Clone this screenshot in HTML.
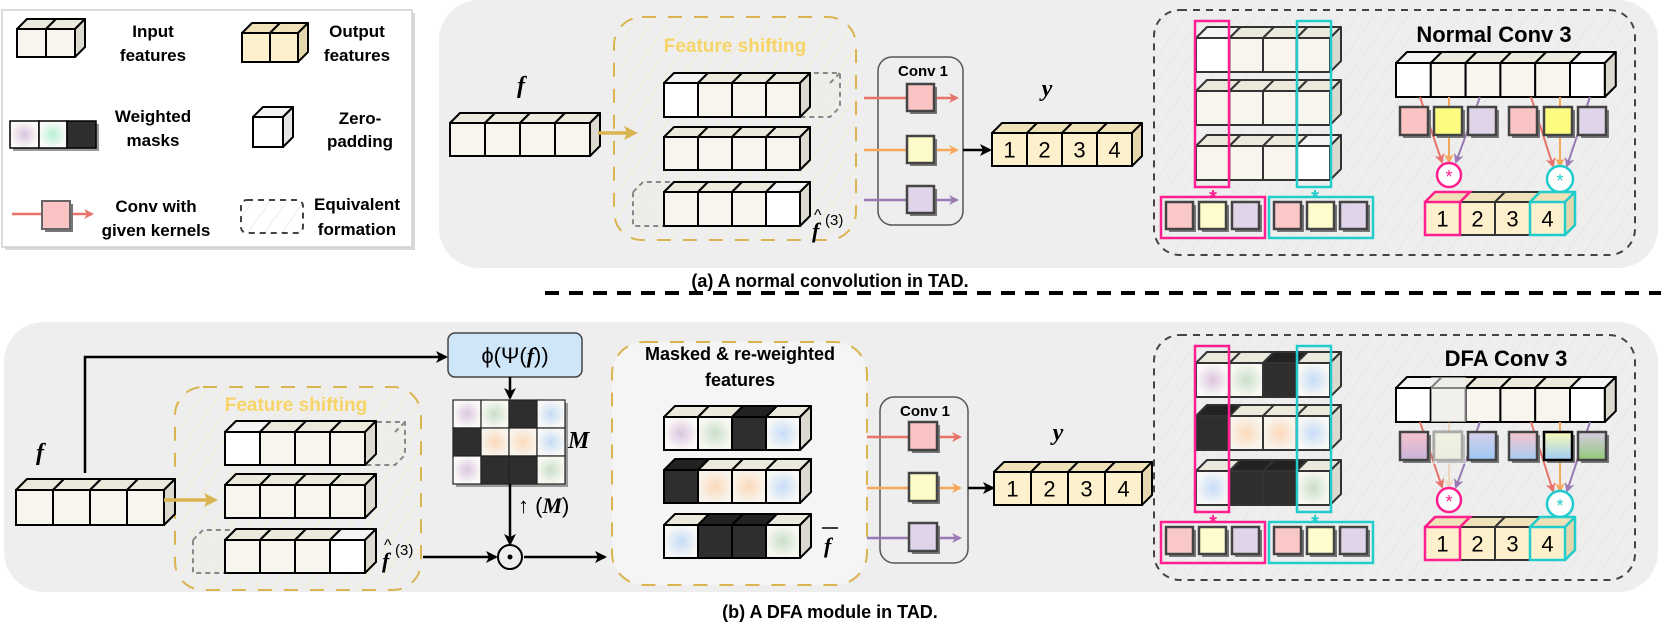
<!DOCTYPE html>
<html><head><meta charset="utf-8">
<style>
html,body{margin:0;padding:0;background:#fff;}
svg{display:block;}
text{font-family:"Liberation Sans",sans-serif;}
.b{font-weight:bold;}
.m{font-family:"Liberation Serif",serif;font-style:italic;font-weight:bold;}
</style></head>
<body>
<svg id="s" width="1661" height="631" viewBox="0 0 1661 631" xmlns="http://www.w3.org/2000/svg">
<defs>
<pattern id="hatch" width="14" height="14" patternUnits="userSpaceOnUse" patternTransform="rotate(35)">
<line x1="0" y1="0" x2="0" y2="14" stroke="#e4e4e4" stroke-width="1.5"/></pattern>
<pattern id="hatchy" width="14" height="14" patternUnits="userSpaceOnUse" patternTransform="rotate(35)">
<line x1="0" y1="0" x2="0" y2="14" stroke="#f6ecc6" stroke-width="1.5"/></pattern>
<radialGradient id="gP"><stop offset="0" stop-color="#dcc5df"/><stop offset="1" stop-color="#fbfaf8"/></radialGradient>
<radialGradient id="gG"><stop offset="0" stop-color="#c9dfc9"/><stop offset="1" stop-color="#f8f8f2"/></radialGradient>
<radialGradient id="gO"><stop offset="0" stop-color="#fbd9bb"/><stop offset="1" stop-color="#f8f4ec"/></radialGradient>
<radialGradient id="gB"><stop offset="0" stop-color="#c6dcf6"/><stop offset="1" stop-color="#f8f8f6"/></radialGradient>
<radialGradient id="gM"><stop offset="0" stop-color="#b9f0d5"/><stop offset="1" stop-color="#fbfbf9"/></radialGradient>
<linearGradient id="k1" x1="0" y1="0" x2="0" y2="1"><stop offset="0" stop-color="#f6c4cc"/><stop offset="1" stop-color="#c8b3da"/></linearGradient>
<linearGradient id="k2" x1="0" y1="0" x2="0" y2="1"><stop offset="0" stop-color="#f2f2d2"/><stop offset="1" stop-color="#e8e8c8"/></linearGradient>
<linearGradient id="k3" x1="0" y1="0" x2="0" y2="1"><stop offset="0" stop-color="#d8d0ea"/><stop offset="1" stop-color="#9cc8f4"/></linearGradient>
<linearGradient id="k4" x1="0" y1="0" x2="0" y2="1"><stop offset="0" stop-color="#f6c4cc"/><stop offset="1" stop-color="#a6cdf5"/></linearGradient>
<linearGradient id="k5" x1="0" y1="0" x2="0" y2="1"><stop offset="0" stop-color="#fbfbb8"/><stop offset="1" stop-color="#9fccf4"/></linearGradient>
<linearGradient id="k6" x1="0" y1="0" x2="0" y2="1"><stop offset="0" stop-color="#d6cce2"/><stop offset="1" stop-color="#92c97a"/></linearGradient>
<marker id="aR" markerWidth="10" markerHeight="10" refX="8" refY="5" orient="auto" markerUnits="userSpaceOnUse"><path d="M0,0 L10,5 L0,10 L3,5z" fill="#e8736a"/></marker>
<marker id="aO" markerWidth="10" markerHeight="10" refX="8" refY="5" orient="auto" markerUnits="userSpaceOnUse"><path d="M0,0 L10,5 L0,10 L3,5z" fill="#f5a85a"/></marker>
<marker id="aP" markerWidth="10" markerHeight="10" refX="8" refY="5" orient="auto" markerUnits="userSpaceOnUse"><path d="M0,0 L10,5 L0,10 L3,5z" fill="#9a7ab5"/></marker>
<marker id="aK" markerWidth="12" markerHeight="12" refX="10" refY="6" orient="auto" markerUnits="userSpaceOnUse"><path d="M0,0 L12,6 L0,12 L3,6z" fill="#000"/></marker>
<marker id="aY" markerWidth="14" markerHeight="14" refX="10" refY="7" orient="auto" markerUnits="userSpaceOnUse"><path d="M0,0 L14,7 L0,14 L3,7z" fill="#d9b450"/></marker>
</defs>

<rect x="5" y="13" width="410" height="237" fill="#d8d8d8"/>
<rect x="2" y="10" width="410" height="237" fill="#fff" stroke="#d0d0d0" stroke-width="1.5"/>
<path d="M479,0 H1618 A40,40 0 0 1 1658,40 V228 A40,40 0 0 1 1618,268 H479 A40,40 0 0 1 439,228 V40 A40,40 0 0 1 479,0z" fill="#eeeeee"/>
<rect x="4" y="322" width="1654" height="270" rx="40" fill="#eeeeee"/>
<line x1="545" y1="293" x2="1661" y2="293" stroke="#000" stroke-width="4" stroke-dasharray="14,10"/>

<rect x="614" y="17" width="242" height="223" rx="28" fill="url(#hatchy)" stroke="#d9b450" stroke-width="2" stroke-dasharray="14,12"/>
<rect x="1154" y="10" width="481" height="245" rx="26" fill="url(#hatch)" stroke="#444" stroke-width="2" stroke-dasharray="7,6"/>
<rect x="878" y="57" width="85" height="168" rx="14" fill="none" stroke="#555" stroke-width="1.5"/>
<rect x="175" y="387" width="246" height="203" rx="28" fill="url(#hatchy)" stroke="#d9b450" stroke-width="2" stroke-dasharray="14,12"/>
<rect x="612" y="342" width="255" height="243" rx="32" fill="#f5f5f5" stroke="#d9b450" stroke-width="2" stroke-dasharray="14,12"/>
<rect x="1154" y="335" width="481" height="245" rx="26" fill="url(#hatch)" stroke="#444" stroke-width="2" stroke-dasharray="7,6"/>
<rect x="880" y="397" width="88" height="166" rx="14" fill="none" stroke="#555" stroke-width="1.5"/>

<g id="g"></g>

<g font-size="17" text-anchor="middle" fill="#000">
<text x="153" y="37" class="b">Input</text><text x="153" y="61" class="b">features</text>
<text x="357" y="37" class="b">Output</text><text x="357" y="61" class="b">features</text>
<text x="153" y="122" class="b">Weighted</text><text x="153" y="146" class="b">masks</text>
<text x="360" y="124" class="b">Zero-</text><text x="360" y="147" class="b">padding</text>
<text x="156" y="212" class="b">Conv with</text><text x="156" y="236" class="b">given kernels</text>
<text x="357" y="210" class="b">Equivalent</text><text x="357" y="235" class="b">formation</text>
</g>
<text x="830" y="287" font-size="18" text-anchor="middle" class="b">(a) A normal convolution in TAD.</text>
<text x="830" y="618" font-size="18" text-anchor="middle" class="b">(b) A DFA module in TAD.</text>

<text x="735" y="52" font-size="19" text-anchor="middle" class="b" fill="#f7d468">Feature shifting</text>
<text x="296" y="411" font-size="19" text-anchor="middle" class="b" fill="#f7d468">Feature shifting</text>
<text x="923" y="76" font-size="15" text-anchor="middle" class="b">Conv 1</text>
<text x="925" y="416" font-size="15" text-anchor="middle" class="b">Conv 1</text>
<text x="1494" y="42" font-size="22" text-anchor="middle" class="b">Normal Conv 3</text>
<text x="1506" y="366" font-size="22" text-anchor="middle" class="b">DFA Conv 3</text>
<text x="740" y="360" font-size="18" text-anchor="middle" class="b">Masked &amp; re-weighted</text>
<text x="740" y="386" font-size="18" text-anchor="middle" class="b">features</text>

<text x="521" y="93" font-size="24" class="m" text-anchor="middle">f</text>
<text x="1047" y="96" font-size="24" class="m" text-anchor="middle">y</text>
<text x="40" y="460" font-size="24" class="m" text-anchor="middle">f</text>
<text x="1058" y="440" font-size="24" class="m" text-anchor="middle">y</text>
<text x="812" y="238" font-size="22" class="m">f</text><text x="814" y="220" font-size="16" font-family="Liberation Serif">^</text>
<text x="825" y="225" font-size="15" font-family="Liberation Serif">(3)</text>
<text x="382" y="568" font-size="22" class="m">f</text><text x="384" y="550" font-size="16" font-family="Liberation Serif">^</text>
<text x="395" y="555" font-size="15" font-family="Liberation Serif">(3)</text>
<text x="824" y="553" font-size="22" class="m">f</text><line x1="822" y1="528" x2="838" y2="528" stroke="#000" stroke-width="1.5"/>
<text x="568" y="448" font-size="24" class="m">M</text>
<text x="518" y="513" font-size="22" font-family="Liberation Serif">↑ (<tspan class="m">M</tspan>)</text>

<rect x="448" y="333" width="134" height="44" rx="7" fill="#cfe5f8" stroke="#444" stroke-width="1.5"/>
<text x="515" y="363" font-size="22" text-anchor="middle" font-family="Liberation Serif">ϕ(Ψ(<tspan class="m">f</tspan>))</text>

<polyline points="85,473 85,357 446,357" fill="none" stroke="#000" stroke-width="2.5" marker-end="url(#aK)"/>
<line x1="510" y1="377" x2="510" y2="398" stroke="#000" stroke-width="2.5" marker-end="url(#aK)"/>
<line x1="510" y1="484" x2="510" y2="544" stroke="#000" stroke-width="2.5" marker-end="url(#aK)"/>
<line x1="423" y1="557" x2="496" y2="557" stroke="#000" stroke-width="2.5" marker-end="url(#aK)"/>
<line x1="524" y1="557" x2="605" y2="557" stroke="#000" stroke-width="2.5" marker-end="url(#aK)"/>
<circle cx="510" cy="557" r="12" fill="#eee" stroke="#000" stroke-width="2"/>
<circle cx="510" cy="557" r="2.5" fill="#000"/>
<line x1="598" y1="133" x2="634" y2="133" stroke="#d9b450" stroke-width="3.5" marker-end="url(#aY)"/>
<line x1="164" y1="500" x2="214" y2="500" stroke="#d9b450" stroke-width="3.5" marker-end="url(#aY)"/>
<line x1="963" y1="150" x2="990" y2="150" stroke="#000" stroke-width="2.5" marker-end="url(#aK)"/>
<line x1="968" y1="488" x2="993" y2="488" stroke="#000" stroke-width="2.5" marker-end="url(#aK)"/>

<g id="fg"></g>
</svg>
<script>
var NS="http://www.w3.org/2000/svg";
var G=document.getElementById('g');
function el(t,a,p){var e=document.createElementNS(NS,t);for(var k in a)e.setAttribute(k,a[k]);(p||G).appendChild(e);return e;}
var IN={f:'#f7f5ee',t:'#ebe8dc',s:'#dcdace'}, OUT={f:'#fdf0cc',t:'#f0e2b8',s:'#e5d7ad'};
function cube(x,y,cw,h,fills,d,pal,opt){
  opt=opt||{};var n=fills.length,X=x+n*cw,st=opt.stroke||'#000',sw=opt.sw||2;
  for(var i=0;i<n;i++){var c=fills[i]||pal.f;var tc=c==='#2e2e2e'?'#222':(c==='#fff'?'#f4f4f4':pal.t);
    el('polygon',{points:[x+i*cw,y,x+i*cw+d,y-d,x+(i+1)*cw+d,y-d,x+(i+1)*cw,y].join(' '),fill:tc,stroke:st,'stroke-width':sw,'stroke-linejoin':'round'});}
  var last=fills[n-1];
  el('polygon',{points:[X,y,X+d,y-d,X+d,y+h-d,X,y+h].join(' '),fill:last==='#2e2e2e'?'#222':pal.s,stroke:st,'stroke-width':sw,'stroke-linejoin':'round'});
  for(var i=0;i<n;i++){el('rect',{x:x+i*cw,y:y,width:cw,height:h,fill:fills[i]||pal.f,stroke:st,'stroke-width':sw});}
  if(opt.labels){for(var i=0;i<n;i++){var t=el('text',{x:x+i*cw+cw/2,y:y+h/2+8,'font-size':22,'text-anchor':'middle'});t.textContent=opt.labels[i];}}
}
function ghost(x,y,w,h,d){el('path',{d:'M'+x+','+y+' l'+d+','+(-d)+' h'+w+' v'+h+' l'+(-d)+','+d+' h'+(-w)+'z M'+(x+w)+','+y+' l'+d+','+(-d),fill:'rgba(235,235,230,0.5)',stroke:'#888','stroke-width':2,'stroke-dasharray':'5,4'});}
function sq(x,y,w,fill,sw,st){el('rect',{x:x+3,y:y+3,width:w,height:w,fill:'#777'});el('rect',{x:x,y:y,width:w,height:w,fill:fill,stroke:st||'#444','stroke-width':sw||2.5});}
function arr(x1,y1,x2,y2,c,m,w){el('line',{x1:x1,y1:y1,x2:x2,y2:y2,stroke:c,'stroke-width':w||2,'marker-end':'url(#'+m+')'});}

cube(17,29,29,28,[0,0],10,IN);
cube(242,33,28,29,[0,0],10,OUT);
el('rect',{x:13,y:124,width:86,height:27,fill:'#999'});
el('rect',{x:10,y:121,width:29,height:27,fill:'url(#gP)',stroke:'#000','stroke-width':1.5});
el('rect',{x:39,y:121,width:28,height:27,fill:'url(#gM)',stroke:'#000','stroke-width':1.5});
el('rect',{x:67,y:121,width:29,height:27,fill:'#2e2e2e',stroke:'#000','stroke-width':1.5});
cube(253,117,30,30,['#fff'],10,{f:'#fff',t:'#f2f2f2',s:'#e6e6e6'});
arr(12,214,92,214,'#e8736a','aR',2.5);
sq(42,201,28,'#fbc4c4',2,'#666');
el('rect',{x:241,y:200,width:62,height:33,rx:6,fill:'url(#hatch)',stroke:'#444','stroke-width':2,'stroke-dasharray':'6,5'});

cube(450,123,35,33,[0,0,0,0],10,IN);
ghost(800,83,30,34,10);
cube(664,83,34,34,['#fff',0,0,0],10,IN);
cube(664,137,34,33,[0,0,0,0],10,IN);
ghost(633,192,31,34,10);
cube(664,192,34,34,[0,0,0,'#fff'],10,IN);
[[98,'#e8736a','aR','#fbc4c4'],[150,'#f5a85a','aO','#fdfcc8'],[200,'#9a7ab5','aP','#e0d5e8']].forEach(function(r){arr(864,r[0],957,r[0],r[1],r[2],2.5);sq(907,r[0]-14,27,r[3]);});
cube(992,133,35,33,[0,0,0,0],10,OUT,{labels:['1','2','3','4']});
cube(16,490,37,35,[0,0,0,0],11,IN);
ghost(363,432,32,33,10);
cube(225,432,35,33,['#fff',0,0,0],11,IN);
cube(225,485,35,33,[0,0,0,0],11,IN);
ghost(193,540,32,33,10);
cube(225,540,35,33,[0,0,0,'#fff'],11,IN);
var MG=[['url(#gP)','url(#gG)','#2e2e2e','url(#gB)'],['#2e2e2e','url(#gO)','url(#gO)','url(#gB)'],['url(#gP)','#2e2e2e','#2e2e2e','url(#gG)']];
el('rect',{x:456,y:403,width:112,height:84,fill:'#999'});
for(var r=0;r<3;r++)for(var c=0;c<4;c++)el('rect',{x:453+c*28,y:400+r*28,width:28,height:28,fill:MG[r][c],stroke:'#222','stroke-width':1.2});
cube(664,417,34,33,MG[0],11,IN);
cube(664,470,34,33,MG[1],11,IN);
cube(664,525,34,33,['url(#gB)','#2e2e2e','#2e2e2e','url(#gG)'],11,IN);
[[437,'#e8736a','aR','#fbc4c4'],[488,'#f5a85a','aO','#fdfcc8'],[538,'#9a7ab5','aP','#e0d5e8']].forEach(function(r){arr(867,r[0],960,r[0],r[1],r[2],2.5);sq(909,r[0]-15,28,r[3]);});
cube(994,472,37,33,[0,0,0,0],10,OUT,{labels:['1','2','3','4']});

function conv3(oy,rows,dfa){
  rows.forEach(function(f,i){cube(1196,[38,91,146][i]+oy,33.5,34,f,11,IN,{stroke:'#333'});});
  el('rect',{x:1195,y:21+oy,width:34,height:166,fill:'none',stroke:'#ff1f8e','stroke-width':2.5});
  el('rect',{x:1297,y:21+oy,width:34,height:166,fill:'none',stroke:'#22cccc','stroke-width':2.5});
  var t=el('text',{x:1213,y:204+oy,'font-size':20,'font-weight':'bold','text-anchor':'middle',fill:'#ff1f8e'});t.textContent='*';
  t=el('text',{x:1315,y:204+oy,'font-size':20,'font-weight':'bold','text-anchor':'middle',fill:'#22cccc'});t.textContent='*';
  el('rect',{x:1161,y:197+oy,width:104,height:41,fill:'none',stroke:'#ff1f8e','stroke-width':2.5});
  el('rect',{x:1269,y:197+oy,width:104,height:41,fill:'none',stroke:'#22cccc','stroke-width':2.5});
  var kc=['#fbc8c8','#fdfccc','#e0d5e8'];
  for(var k=0;k<3;k++){sq(1166+k*33,202+oy,27,kc[k]);sq(1274+k*33,202+oy,27,kc[k]);}
  var tf=dfa?['#fff','#f4f2ea',0,0,0,'#fff']:['#fff',0,0,0,0,'#fff'];
  cube(1396,63+oy,34.8,34,tf,11,IN);
  if(dfa){el('rect',{x:1431,y:52+oy,width:35,height:45,fill:'rgba(238,238,238,0.55)'});}
  var kx=[1400,1434,1468,1509,1544,1578];
  var kf=dfa?['url(#k1)','url(#k2)','url(#k3)','url(#k4)','url(#k5)','url(#k6)']:['#fbc4c4','#fcfc80','#e0d5e8','#fbc4c4','#fcfc80','#e0d5e8'];
  var lc=[['#e8736a','aR'],['#f5a85a','aO'],['#9a7ab5','aP']];
  var cx1=1449,cx2=1560,cy1=500-325+oy,cy2=504-325+oy;
  var src=[1420,1449,1480,1531,1560,1590];
  for(var k=0;k<6;k++){var tx=k<3?cx1:cx2,ty=k<3?cy1:cy2,l=lc[k%3];var off=(k%3-1)*7;
    var e=el('line',{x1:src[k],y1:97+oy,x2:tx+off,y2:ty-13,stroke:l[0],'stroke-width':2,'marker-end':'url(#'+l[1]+')'});
    if(dfa&&k==1)e.setAttribute('opacity','0.3');}
  for(var k=0;k<6;k++){sq(kx[k],107+oy,28,kf[k],2.5,(dfa&&k==4)?'#000':'#444');if(dfa&&k==1){el('rect',{x:kx[k]-1,y:106+oy,width:33,height:33,fill:'rgba(238,238,238,0.6)'});}}
  el('circle',{cx:cx1,cy:cy1,r:12,fill:'#fff',stroke:'#ff1f8e','stroke-width':2.5});
  el('circle',{cx:cx2,cy:cy2,r:13,fill:'#fff',stroke:'#22cccc','stroke-width':2.5});
  t=el('text',{x:cx1,y:cy1+8,'font-size':18,'text-anchor':'middle',fill:'#ff1f8e'});t.textContent='*';
  t=el('text',{x:cx2,y:cy2+8,'font-size':18,'text-anchor':'middle',fill:'#22cccc'});t.textContent='*';
  cube(1425,202+oy,35,33,[0,0,0,0],10,OUT,{stroke:'#333',labels:['1','2','3','4']});
  el('path',{d:'M1425,'+(202+oy)+' h35 v33 h-35z M1425,'+(202+oy)+' l10,-10 h35 l-10,10',fill:'none',stroke:'#ff1f8e','stroke-width':2.5});
  el('path',{d:'M1530,'+(202+oy)+' h35 v33 h-35z M1530,'+(202+oy)+' l10,-10 h35 v33 l-10,10 M1565,'+(202+oy)+' l10,-10',fill:'none',stroke:'#22cccc','stroke-width':2.5});
}
conv3(0,[['#fff',0,0,0],[0,0,0,0],[0,0,0,'#fff']],false);
conv3(325,[['url(#gP)','url(#gG)','#2e2e2e','url(#gB)'],['#2e2e2e','url(#gO)','url(#gO)','url(#gB)'],['url(#gB)','#2e2e2e','#2e2e2e','url(#gG)']],true);
</script>
</body></html>
